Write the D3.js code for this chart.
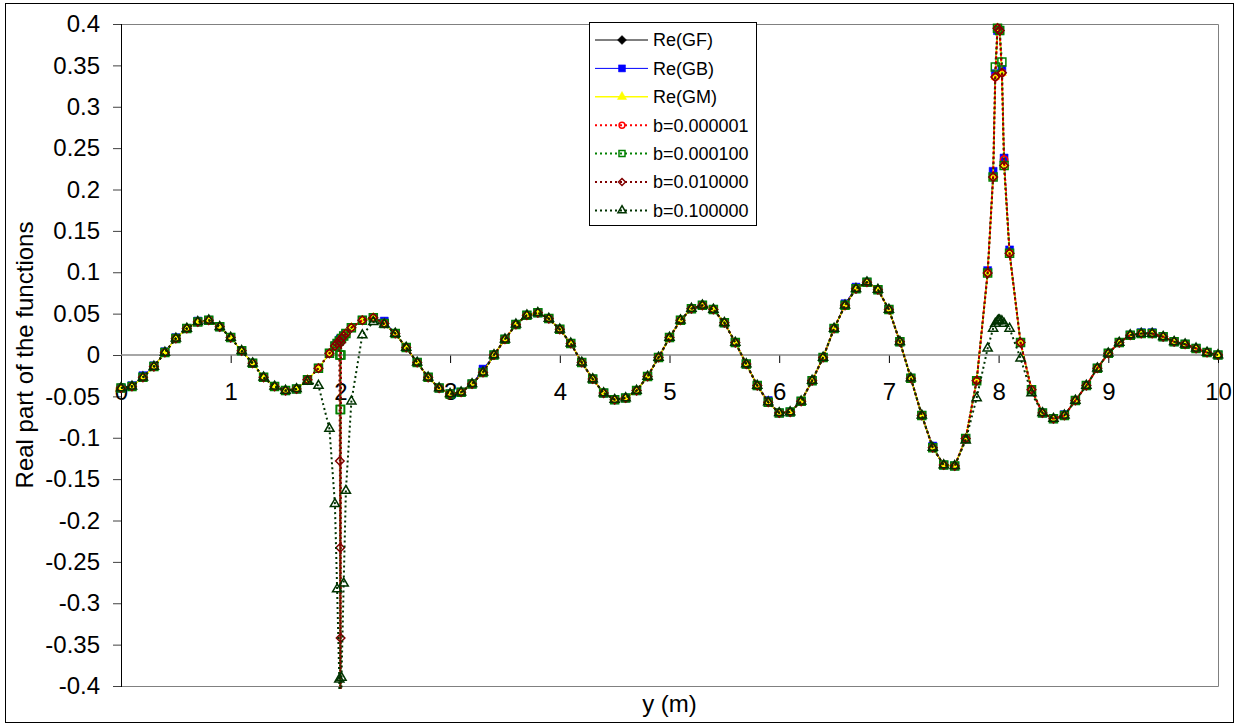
<!DOCTYPE html>
<html>
<head>
<meta charset="utf-8">
<script src="https://cdn.jsdelivr.net/npm/d3@7"></script>
<style>
  body { margin: 0; background: #fff; }
  svg { display: block; font-family: "Liberation Sans", Arial, sans-serif; }
</style>
</head>
<body>
<svg id="chart" width="1239" height="727"></svg>
<script>
// sample positions y (m), refined around y = 2 and y = 8
const yPos = [
  0, 0.1, 0.2, 0.3, 0.4, 0.5, 0.6, 0.7, 0.8, 0.9, 1, 1.1, 1.2, 1.3, 1.4, 1.5, 1.6, 1.7, 1.8, 1.9,
  1.95, 1.97, 1.99, 1.995, 1.998, 2, 2.002, 2.005, 2.01, 2.03, 2.05,
  2.1, 2.2, 2.3, 2.4, 2.5, 2.6, 2.7, 2.8, 2.9, 3, 3.1, 3.2, 3.3, 3.4, 3.5, 3.6, 3.7, 3.8, 3.9,
  4, 4.1, 4.2, 4.3, 4.4, 4.5, 4.6, 4.7, 4.8, 4.9,
  5, 5.1, 5.2, 5.3, 5.4, 5.5, 5.6, 5.7, 5.8, 5.9, 6, 6.1, 6.2, 6.3, 6.4, 6.5, 6.6, 6.7, 6.8, 6.9,
  7, 7.1, 7.2, 7.3, 7.4, 7.5, 7.6, 7.7, 7.8, 7.9,
  7.95, 7.97, 7.99, 8, 8.01, 8.03, 8.05,
  8.1, 8.2, 8.3, 8.4, 8.5, 8.6, 8.7, 8.8, 8.9, 9, 9.1, 9.2, 9.3, 9.4, 9.5, 9.6, 9.7, 9.8, 9.9, 10
];

const reGF = [
  -0.040, -0.038, -0.027, -0.014, 0.003, 0.020, 0.032, 0.040, 0.042, 0.034, 0.021, 0.005, -0.010, -0.027, -0.038, -0.043, -0.041, -0.030, -0.016, 0.002,
  0.011, 0.014, 0.017, 0.018, 0.018, 0.019, 0.019, 0.020, 0.020, 0.023, 0.026,
  0.033, 0.042, 0.045, 0.038, 0.026, 0.009, -0.009, -0.027, -0.040, -0.047, -0.045, -0.035, -0.021, 0.000, 0.019, 0.037, 0.048, 0.051, 0.044,
  0.031, 0.014, -0.009, -0.029, -0.046, -0.054, -0.052, -0.043, -0.026, -0.003,
  0.021, 0.042, 0.056, 0.060, 0.055, 0.039, 0.015, -0.011, -0.037, -0.057, -0.070, -0.069, -0.056, -0.031, -0.003, 0.032, 0.060, 0.080, 0.088, 0.079,
  0.055, 0.016, -0.028, -0.073, -0.112, -0.133, -0.134, -0.101, -0.031, 0.099,
  0.215, 0.336, 0.395, 0.470, 0.392, 0.341, 0.229,
  0.123, 0.015, -0.042, -0.070, -0.077, -0.073, -0.055, -0.037, -0.016, 0.002, 0.015, 0.024, 0.026, 0.026, 0.022, 0.016, 0.013, 0.008, 0.003, 0.000
];

const reGB = [
  -0.040, -0.037, -0.025, -0.013, 0.004, 0.021, 0.032, 0.041, 0.042, 0.034, 0.021, 0.005, -0.010, -0.027, -0.038, -0.043, -0.041, -0.030, -0.016, 0.002,
  0.011, 0.014, 0.017, 0.018, 0.018, 0.019, 0.019, 0.020, 0.020, 0.023, 0.026,
  0.033, 0.042, 0.045, 0.041, 0.026, 0.009, -0.009, -0.027, -0.040, -0.047, -0.045, -0.035, -0.017, 0.000, 0.019, 0.037, 0.048, 0.051, 0.044,
  0.031, 0.014, -0.009, -0.029, -0.046, -0.054, -0.052, -0.043, -0.026, -0.003,
  0.021, 0.042, 0.056, 0.060, 0.055, 0.039, 0.015, -0.011, -0.037, -0.055, -0.070, -0.069, -0.056, -0.031, -0.003, 0.032, 0.062, 0.082, 0.088, 0.079,
  0.055, 0.016, -0.028, -0.073, -0.110, -0.133, -0.134, -0.101, -0.031, 0.102,
  0.222, 0.340, 0.392, 0.470, 0.392, 0.345, 0.238,
  0.127, 0.015, -0.042, -0.070, -0.077, -0.072, -0.055, -0.037, -0.016, 0.002, 0.015, 0.024, 0.027, 0.027, 0.022, 0.016, 0.013, 0.008, 0.003, 0.000
];

const reGM = [
  -0.040, -0.038, -0.027, -0.014, 0.003, 0.020, 0.032, 0.040, 0.042, 0.034, 0.021, 0.005, -0.010, -0.027, -0.038, -0.043, -0.041, -0.030, -0.016, 0.002,
  0.011, 0.014, 0.017, 0.018, 0.018, 0.019, 0.019, 0.020, 0.020, 0.023, 0.026,
  0.033, 0.042, 0.045, 0.038, 0.026, 0.009, -0.009, -0.027, -0.040, -0.047, -0.045, -0.035, -0.021, 0.000, 0.019, 0.037, 0.048, 0.051, 0.044,
  0.031, 0.014, -0.009, -0.029, -0.046, -0.054, -0.052, -0.043, -0.026, -0.003,
  0.021, 0.042, 0.056, 0.060, 0.055, 0.039, 0.015, -0.011, -0.037, -0.057, -0.070, -0.069, -0.056, -0.031, -0.003, 0.032, 0.060, 0.080, 0.088, 0.079,
  0.055, 0.016, -0.028, -0.073, -0.112, -0.133, -0.134, -0.101, -0.031, 0.099,
  0.215, 0.336, 0.395, 0.470, 0.392, 0.341, 0.229,
  0.123, 0.015, -0.042, -0.070, -0.077, -0.073, -0.055, -0.037, -0.016, 0.002, 0.015, 0.024, 0.026, 0.026, 0.022, 0.016, 0.013, 0.008, 0.003, 0.000
];

// b = 0.000001
const reB1 = [
  -0.040, -0.038, -0.027, -0.014, 0.003, 0.020, 0.032, 0.040, 0.042, 0.034, 0.021, 0.005, -0.010, -0.027, -0.038, -0.043, -0.041, -0.030, -0.016, 0.002,
  0.011, 0.014, 0.017, 0.018, 0.018, -0.900, 0.019, 0.020, 0.020, 0.023, 0.026,
  0.033, 0.042, 0.045, 0.038, 0.026, 0.009, -0.009, -0.027, -0.040, -0.047, -0.045, -0.035, -0.021, 0.000, 0.019, 0.037, 0.048, 0.051, 0.044,
  0.031, 0.014, -0.009, -0.029, -0.046, -0.054, -0.052, -0.043, -0.026, -0.003,
  0.021, 0.042, 0.056, 0.060, 0.055, 0.039, 0.015, -0.011, -0.037, -0.057, -0.070, -0.069, -0.056, -0.031, -0.003, 0.032, 0.060, 0.080, 0.088, 0.079,
  0.055, 0.016, -0.028, -0.073, -0.112, -0.133, -0.134, -0.101, -0.031, 0.099,
  0.215, 0.336, 0.395, 0.470, 0.392, 0.341, 0.236,
  0.123, 0.015, -0.042, -0.070, -0.077, -0.073, -0.055, -0.037, -0.016, 0.002, 0.015, 0.024, 0.026, 0.026, 0.022, 0.016, 0.013, 0.008, 0.003, 0.000
];

// b = 0.000100
const reB2 = [
  -0.040, -0.038, -0.027, -0.014, 0.003, 0.020, 0.032, 0.040, 0.042, 0.034, 0.021, 0.005, -0.010, -0.027, -0.038, -0.043, -0.041, -0.030, -0.016, 0.002,
  0.011, 0.014, 0.017, 0.000, -0.066, -0.800, -0.066, 0.000, 0.020, 0.023, 0.026,
  0.033, 0.042, 0.045, 0.038, 0.026, 0.009, -0.009, -0.027, -0.040, -0.047, -0.045, -0.035, -0.021, 0.000, 0.019, 0.037, 0.048, 0.051, 0.044,
  0.031, 0.014, -0.009, -0.029, -0.046, -0.054, -0.052, -0.043, -0.026, -0.003,
  0.021, 0.042, 0.056, 0.060, 0.055, 0.039, 0.015, -0.011, -0.037, -0.057, -0.070, -0.069, -0.056, -0.031, -0.003, 0.032, 0.060, 0.080, 0.088, 0.079,
  0.055, 0.016, -0.028, -0.073, -0.112, -0.133, -0.134, -0.101, -0.031, 0.099,
  0.215, 0.348, 0.395, 0.470, 0.392, 0.354, 0.229,
  0.123, 0.015, -0.042, -0.070, -0.077, -0.073, -0.055, -0.037, -0.016, 0.002, 0.015, 0.024, 0.026, 0.026, 0.022, 0.016, 0.013, 0.008, 0.003, 0.000
];

// b = 0.010000
const reB3 = [
  -0.040, -0.038, -0.027, -0.014, 0.003, 0.020, 0.032, 0.040, 0.042, 0.034, 0.021, 0.005, -0.010, -0.027, -0.038, -0.043, -0.041, -0.030, -0.016, 0.002,
  0.011, 0.014, 0.017, -0.128, -0.233, -0.700, -0.342, 0.015, 0.020, 0.023, 0.026,
  0.033, 0.042, 0.045, 0.038, 0.026, 0.009, -0.009, -0.027, -0.040, -0.047, -0.045, -0.035, -0.021, 0.000, 0.019, 0.037, 0.048, 0.051, 0.044,
  0.031, 0.014, -0.009, -0.029, -0.046, -0.054, -0.052, -0.043, -0.026, -0.003,
  0.021, 0.042, 0.056, 0.060, 0.055, 0.039, 0.015, -0.011, -0.037, -0.057, -0.070, -0.069, -0.056, -0.031, -0.003, 0.032, 0.060, 0.080, 0.088, 0.079,
  0.055, 0.016, -0.028, -0.073, -0.112, -0.133, -0.134, -0.101, -0.031, 0.099,
  0.215, 0.336, 0.395, 0.470, 0.392, 0.341, 0.229,
  0.123, 0.015, -0.042, -0.070, -0.077, -0.073, -0.055, -0.037, -0.016, 0.002, 0.015, 0.024, 0.026, 0.026, 0.022, 0.016, 0.013, 0.008, 0.003, 0.000
];

// b = 0.100000
const reB4 = [
  -0.040, -0.038, -0.027, -0.014, 0.003, 0.020, 0.032, 0.040, 0.042, 0.034, 0.021, 0.005, -0.010, -0.027, -0.038, -0.043, -0.041, -0.032, -0.037, -0.089,
  -0.180, -0.283, -0.392, -0.600, -0.800, -0.900, -0.800, -0.600, -0.390, -0.276, -0.164,
  -0.056, 0.024, 0.040, 0.037, 0.026, 0.009, -0.009, -0.027, -0.040, -0.047, -0.045, -0.035, -0.021, 0.000, 0.019, 0.037, 0.048, 0.051, 0.044,
  0.031, 0.014, -0.009, -0.029, -0.046, -0.054, -0.052, -0.043, -0.026, -0.003,
  0.021, 0.042, 0.056, 0.060, 0.055, 0.039, 0.015, -0.011, -0.037, -0.057, -0.070, -0.069, -0.056, -0.031, -0.003, 0.032, 0.060, 0.080, 0.088, 0.079,
  0.055, 0.016, -0.028, -0.073, -0.112, -0.133, -0.134, -0.103, -0.052, 0.008,
  0.032, 0.038, 0.041, 0.042, 0.042, 0.041, 0.038,
  0.032, -0.004, -0.046, -0.070, -0.077, -0.073, -0.055, -0.037, -0.016, 0.002, 0.015, 0.024, 0.026, 0.026, 0.022, 0.016, 0.013, 0.008, 0.003, 0.000
];

const seriesNames = ["Re(GF)", "Re(GB)", "Re(GM)", "b=0.000001", "b=0.000100", "b=0.010000", "b=0.100000"];
const xTicks = [0, 1, 2, 3, 4, 5, 6, 7, 8, 9, 10];
const yTicks = [-0.4, -0.35, -0.3, -0.25, -0.2, -0.15, -0.1, -0.05, 0, 0.05, 0.1, 0.15, 0.2, 0.25, 0.3, 0.35, 0.4];

// styling of each series, in drawing order
const styles = [
  {color: "#000000", width: 1,   dash: null,  symbol: "diamond",  filled: true,  size: 9,  legendSize: 9},
  {color: "#0000ff", width: 1,   dash: null,  symbol: "square",   filled: true,  size: 8,  legendSize: 7},
  {color: "#ffff00", width: 1.5, dash: null,  symbol: "triangle", filled: true,  size: 9,  legendSize: 9},
  {color: "#ff0000", width: 2,   dash: "2,3", symbol: "circle",   filled: false, size: 7.5, legendSize: 6},
  {color: "#008000", width: 2,   dash: "2,3", symbol: "square",   filled: false, size: 8,  legendSize: 6},
  {color: "#800000", width: 2,   dash: "2,3", symbol: "diamond",  filled: false, size: 8.5, legendSize: 7},
  {color: "#003300", width: 2,   dash: "2,3", symbol: "triangle", filled: false, size: 9,  legendSize: 8}
];
const allValues = [reGF, reGB, reGM, reB1, reB2, reB3, reB4];
const series = seriesNames.map((name, i) => ({name: name, values: allValues[i], style: styles[i]}));

const svg = d3.select("#chart");
const plot = {left: 121, right: 1218, top: 24, bottom: 686};

const x = d3.scaleLinear().domain([0, 10]).range([plot.left, plot.right]);
const y = d3.scaleLinear().domain([-0.4, 0.4]).range([plot.bottom, plot.top]);

// outer chart frame
svg.append("rect")
    .attr("x", 5.5).attr("y", 3.5)
    .attr("width", 1228).attr("height", 719)
    .attr("fill", "#fff")
    .attr("stroke", "#000")
    .attr("stroke-width", 1);

// plot area frame
svg.append("path")
    .attr("d", `M${plot.left},${plot.top + 0.5}H${plot.right + 0.5}V${plot.bottom + 0.5}H${plot.left}`)
    .attr("fill", "none")
    .attr("stroke", "#808080")
    .attr("stroke-width", 1);

svg.append("clipPath")
    .attr("id", "plotclip")
  .append("rect")
    .attr("x", plot.left - 10)
    .attr("y", plot.top)
    .attr("width", plot.right - plot.left + 20)
    .attr("height", plot.bottom - plot.top + 3);

// y axis
const yAxis = svg.append("g")
    .attr("transform", `translate(${plot.left},0)`)
    .call(d3.axisLeft(y).tickValues(yTicks).tickSize(8).tickPadding(13).tickFormat(d => String(d)));
yAxis.select(".domain").remove();
yAxis.selectAll(".tick line").attr("stroke", "#404040");
yAxis.selectAll("text")
    .attr("fill", "#000")
    .style("font-size", "24px");
svg.append("line")
    .attr("x1", plot.left + 0.5).attr("x2", plot.left + 0.5)
    .attr("y1", plot.top).attr("y2", plot.bottom + 1)
    .attr("stroke", "#000");

// x axis crosses at zero
const xAxis = svg.append("g")
    .attr("transform", `translate(0,${Math.round(y(0))})`)
    .call(d3.axisBottom(x).tickValues(xTicks).tickSize(8).tickPadding(20).tickFormat(d => String(d)));
xAxis.select(".domain").remove();
xAxis.selectAll(".tick line").attr("stroke", "#000");
xAxis.selectAll("text")
    .attr("fill", "#000")
    .style("font-size", "24px");
svg.append("line")
    .attr("x1", plot.left).attr("x2", plot.right)
    .attr("y1", Math.round(y(0))).attr("y2", Math.round(y(0)))
    .attr("stroke", "#888")
    .attr("stroke-width", 1.5);

// axis titles
svg.append("text")
    .attr("transform", `translate(33,${(plot.top + plot.bottom) / 2}) rotate(-90)`)
    .attr("text-anchor", "middle")
    .style("font-size", "24px")
    .text("Real part of the functions");

svg.append("text")
    .attr("x", (plot.left + plot.right) / 2)
    .attr("y", 712)
    .attr("text-anchor", "middle")
    .style("font-size", "24px")
    .text("y (m)");

function symbolPath(kind, size) {
    if (kind === "circle") return d3.symbol(d3.symbolCircle, size * size * 0.75)();
    if (kind === "square") return d3.symbol(d3.symbolSquare, size * size)();
    if (kind === "triangle") return d3.symbol(d3.symbolTriangle, size * size * 0.45)();
    // diamond: square turned 45 degrees
    const h = size / 2;
    return `M0,${-h}L${h},0L0,${h}L${-h},0Z`;
}

function drawMarker(sel, st, size) {
    sel.append("path")
        .attr("d", symbolPath(st.symbol, size))
        .attr("fill", st.filled ? st.color : "none")
        .attr("stroke", st.color)
        .attr("stroke-width", st.filled ? 0.5 : 1.5);
}

const line = d3.line()
    .x((d, i) => x(yPos[i]))
    .y(d => y(d));

const dataLayer = svg.append("g");

series.forEach(s => {
    const st = s.style;
    dataLayer.append("path")
        .datum(s.values)
        .attr("clip-path", "url(#plotclip)")
        .attr("fill", "none")
        .attr("stroke", st.color)
        .attr("stroke-width", st.width)
        .attr("stroke-dasharray", st.dash)
        .attr("d", line);

    const pts = s.values
        .map((v, i) => ({xv: yPos[i], v: v}))
        .filter(p => Math.abs(p.v) <= 0.405);

    dataLayer.append("g")
        .selectAll("g")
        .data(pts)
        .join("g")
        .attr("transform", p => `translate(${x(p.xv)},${y(p.v)})`)
        .each(function() { drawMarker(d3.select(this), st, st.size); });
});

// legend
const legend = svg.append("g").attr("transform", "translate(589,22)");
legend.append("rect")
    .attr("x", 0.5).attr("y", 0.5)
    .attr("width", 167).attr("height", 203)
    .attr("fill", "#fff")
    .attr("stroke", "#000");

const rows = legend.selectAll(".row")
    .data(series)
    .join("g")
    .attr("class", "row")
    .attr("transform", (d, i) => `translate(0,${18 + i * 28.4})`);

rows.append("line")
    .attr("x1", 6).attr("x2", 59)
    .attr("stroke", d => d.style.color)
    .attr("stroke-width", d => d.style.width)
    .attr("stroke-dasharray", d => d.style.dash);

rows.append("g")
    .attr("transform", "translate(33,0)")
    .each(function(d) { drawMarker(d3.select(this), d.style, d.style.legendSize); });

rows.append("text")
    .attr("x", 64)
    .attr("dy", "0.35em")
    .style("font-size", "18px")
    .text(d => d.name);
</script>
</body>
</html>
